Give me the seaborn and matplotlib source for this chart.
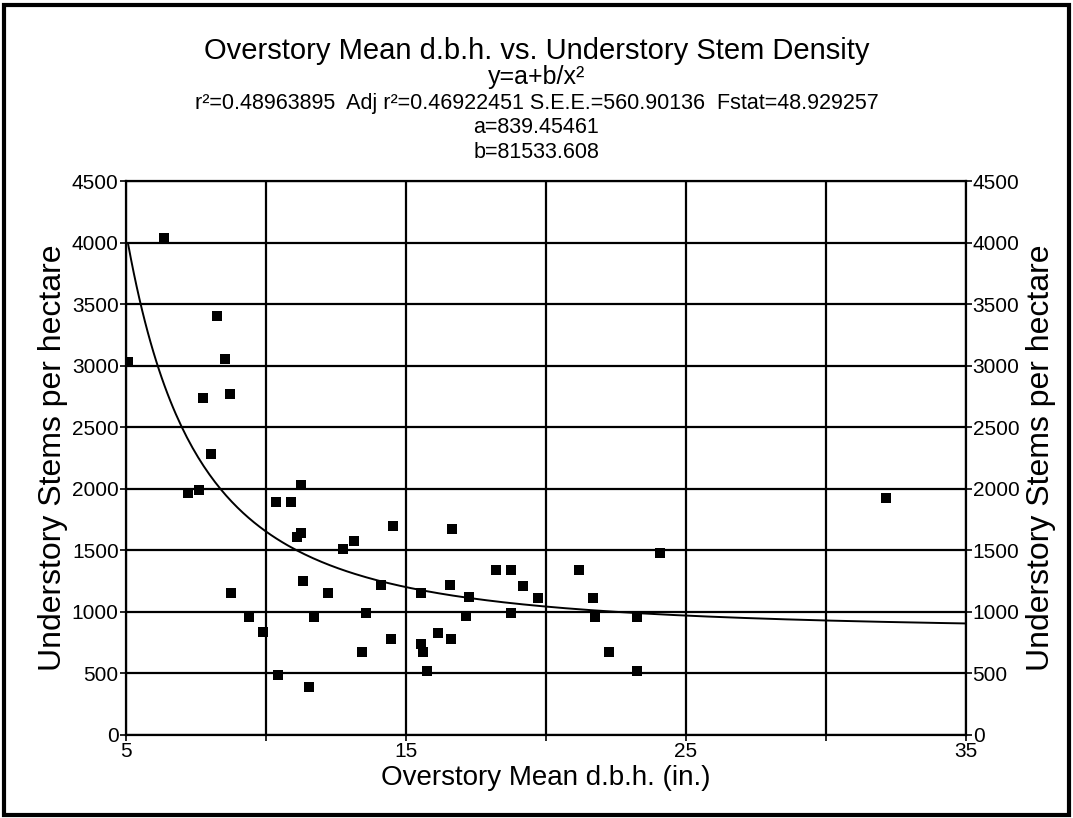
import numpy as np
import pandas as pd
import matplotlib
matplotlib.use("Agg")
import matplotlib.pyplot as plt
import seaborn as sns
from matplotlib.patches import Rectangle

sns.set_style("white")
plt.rcParams['font.family'] = ['Liberation Sans', 'DejaVu Sans']
plt.rcParams['text.color'] = 'black'
plt.rcParams['axes.labelcolor'] = 'black'

# data
dbh = [5.09, 6.37, 7.24, 7.61, 7.77, 8.05, 8.26, 8.55, 8.71, 8.76,
       9.39, 9.89, 10.36, 10.45, 10.89, 11.13, 11.27, 11.26, 11.33, 11.54,
       11.74, 12.24, 12.75, 13.16, 13.44, 13.58, 14.12, 14.49, 14.56, 15.55,
       15.55, 15.63, 15.76, 16.16, 16.58, 16.63, 16.66, 17.15, 17.27, 18.22,
       18.75, 18.75, 19.18, 19.71, 21.19, 21.69, 21.77, 22.25, 23.27, 23.27,
       24.07, 32.14]
stems = [3030, 4035, 1963, 1990, 2740, 2282, 3403, 3054, 2770, 1156,
         961, 834, 1893, 485, 1893, 1606, 1638, 2028, 1248, 393,
         961, 1156, 1513, 1576, 672, 988, 1222, 777, 1700, 1153,
         739, 674, 520, 831, 1221, 777, 1671, 964, 1124, 1343,
         1343, 994, 1210, 1115, 1343, 1115, 961, 672, 961, 520,
         1478, 1928]

a = 839.45461
b = 81533.608

df = pd.DataFrame({'dbh': dbh, 'stems': stems})
xfit = np.linspace(min(dbh), 35, 300)
fit = pd.DataFrame({'dbh': xfit, 'stems': a + b / xfit**2})

fig = plt.figure(figsize=(10.73, 8.18), dpi=100)
ax = fig.add_axes([0.1171, 0.1015, 0.7829, 0.6772])

sns.lineplot(data=fit, x='dbh', y='stems', ax=ax, color='black', linewidth=1.4)
sns.scatterplot(data=df, x='dbh', y='stems', ax=ax, marker='s', s=45,
                color='black', edgecolor='black', linewidth=0, zorder=3)

ax.set_xlim(5, 35)
ax.set_ylim(0, 4500)
ax.set_xticks(np.arange(5, 36, 5))
ax.set_xticklabels(['5', '', '15', '', '25', '', '35'])
ax.set_yticks(np.arange(0, 4501, 500))
ax.grid(True, color='black', linewidth=1.6)
ax.set_axisbelow(True)
for s in ax.spines.values():
    s.set_color('black')
    s.set_linewidth(1.6)
ax.tick_params(direction='out', length=4, width=1.2, colors='black',
               labelsize=15, pad=1, bottom=True, left=True)
ax.set_xlabel("Overstory Mean d.b.h. (in.)", fontsize=20, labelpad=3)
ax.set_ylabel("Understory Stems per hectare", fontsize=23, labelpad=3)

ax2 = ax.twinx()
ax2.set_ylim(0, 4500)
ax2.set_yticks(np.arange(0, 4501, 500))
ax2.tick_params(direction='out', length=4, width=1.2, colors='black',
                labelsize=15, pad=1, right=True)
ax2.set_ylabel("Understory Stems per hectare", fontsize=23, labelpad=5)
for s in ax2.spines.values():
    s.set_visible(False)

fig.text(0.5, 0.938, "Overstory Mean d.b.h. vs. Understory Stem Density",
         ha='center', va='center', fontsize=21)
fig.text(0.5, 0.906, "y=a+b/x²", ha='center', va='center', fontsize=18)
fig.text(0.5, 0.874,
         "r²=0.48963895  Adj r²=0.46922451 S.E.E.=560.90136  Fstat=48.929257",
         ha='center', va='center', fontsize=15.5)
fig.text(0.5, 0.844, "a=839.45461", ha='center', va='center', fontsize=15.5)
fig.text(0.5, 0.814, "b=81533.608", ha='center', va='center', fontsize=15.5)

fig.patches.append(Rectangle((0.004, 0.004), 0.992, 0.99, transform=fig.transFigure,
                             fill=False, edgecolor='black', linewidth=3))

fig.savefig("out.png", dpi=100)
